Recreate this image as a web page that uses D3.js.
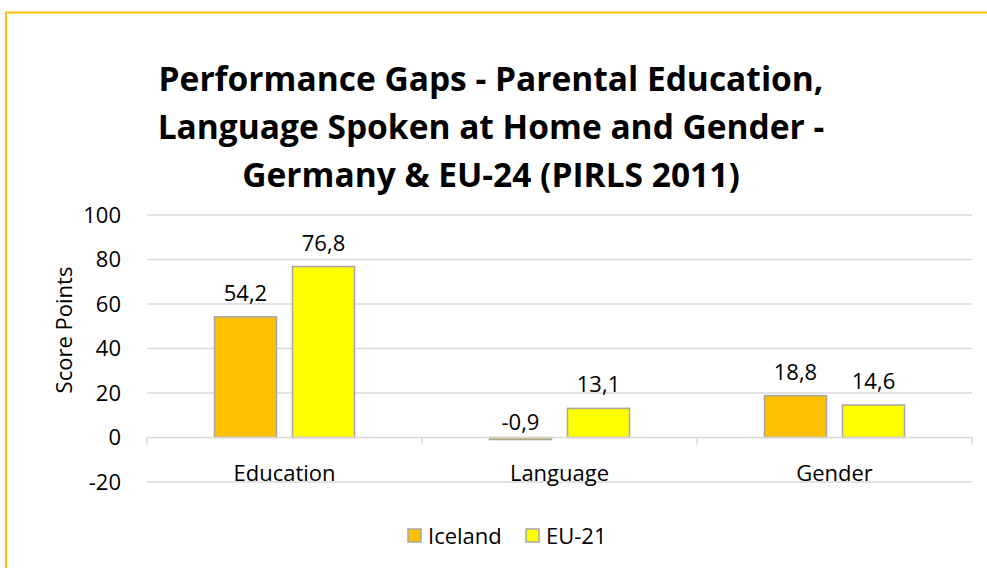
<!DOCTYPE html>
<html lang="en">
<head>
    <meta charset="UTF-8">
    <title>Performance Gaps</title>
    <script src="https://cdn.jsdelivr.net/npm/d3@7"></script>
</head>
<style>
    body { margin: 0; background: #fff; }
    svg text { font-family: "Open Sans", sans-serif; fill: #000; }
    .tick-label, .cat-label, .val-label, .legend-label, .y-title { font-size: 22px; }
    .title { font-size: 33.5px; font-weight: bold; text-anchor: middle; }
</style>
<body>
<svg class="chart"></svg>
<script>
    // data
    var categories = ["Education", "Language", "Gender"];
    var seriesNames = ["Iceland", "EU-21"];
    var iceland = [54.2, -0.9, 18.8];
    var eu21 = [76.8, 13.1, 14.6];
    var yTicks = [-20, 0, 20, 40, 60, 80, 100];
    var titleLines = [
        "Performance Gaps - Parental Education,",
        "Language Spoken at Home and Gender -",
        "Germany & EU-24 (PIRLS 2011)"
    ];

    var colors = ["#FFC000", "#FFFF00"];
    var W = 987, H = 568;

    // comma decimals, plain hyphen for minus
    var fmtVal = function (v) { return d3.format(".1f")(v).replace("−", "-").replace(".", ","); };
    var fmtTick = function (v) { return String(v); };

    var svg = d3.select(".chart").attr("width", W).attr("height", H);

    // chart border
    svg.append("rect")
        .attr("x", 6).attr("y", 12.5)
        .attr("width", W + 10).attr("height", H + 10)
        .attr("fill", "#fff")
        .attr("stroke", "#FFC000")
        .attr("stroke-width", 2);

    // title
    svg.append("text")
        .attr("class", "title")
        .selectAll("tspan")
        .data(titleLines)
        .enter()
        .append("tspan")
        .attr("x", 491)
        .attr("y", function (d, i) { return 91 + i * 48; })
        .text(function (d) { return d; });

    // scales
    var y = d3.scaleLinear().domain([-20, 100]).range([482, 215]);
    var x0 = d3.scaleBand().domain(categories).range([147, 972]);
    var x1 = d3.scaleBand().domain(seriesNames)
        .range([0, x0.bandwidth()])
        .paddingInner(0.205)
        .paddingOuter(0.865);

    // gridlines
    svg.append("g")
        .selectAll("line")
        .data(yTicks.filter(function (d) { return d !== 0; }))
        .enter()
        .append("line")
        .attr("x1", 147).attr("x2", 972)
        .attr("y1", function (d) { return y(d); })
        .attr("y2", function (d) { return y(d); })
        .attr("stroke", "#D9D9D9")
        .attr("stroke-width", 1.5);

    // y axis labels
    var yAxis = d3.axisLeft(y).tickValues(yTicks).tickFormat(fmtTick).tickSize(0).tickPadding(0);
    var gy = svg.append("g").attr("transform", "translate(121,0)").call(yAxis);
    gy.select(".domain").remove();
    gy.selectAll("text")
        .attr("class", "tick-label")
        .attr("fill", "#000")
        .style("font-family", '"Open Sans", sans-serif')
        .style("font-size", "22px");

    // y title
    svg.append("text")
        .attr("class", "y-title")
        .attr("transform", "translate(72,330) rotate(-90)")
        .attr("text-anchor", "middle")
        .text("Score Points");

    // bars
    var groups = svg.append("g")
        .selectAll("g")
        .data(categories)
        .enter()
        .append("g")
        .attr("transform", function (d) { return "translate(" + x0(d) + ",0)"; });

    var rows = function (c, i) {
        return [
            { name: seriesNames[0], value: iceland[i] },
            { name: seriesNames[1], value: eu21[i] }
        ];
    };

    groups.selectAll("rect")
        .data(rows)
        .enter()
        .append("rect")
        .attr("x", function (d) { return x1(d.name); })
        .attr("width", x1.bandwidth())
        .attr("y", function (d) { return y(Math.max(d.value, 0)); })
        .attr("height", function (d) { return Math.abs(y(d.value) - y(0)); })
        .attr("fill", function (d, i) { return colors[i]; })
        .attr("stroke", "#A6A6A6")
        .attr("stroke-width", 1.5);

    groups.selectAll(".val-label")
        .data(rows)
        .enter()
        .append("text")
        .attr("class", "val-label")
        .attr("text-anchor", "middle")
        .attr("x", function (d) { return x1(d.name) + x1.bandwidth() / 2; })
        .attr("y", function (d) {
            return d.value < 0 ? y(0) - 8 : y(d.value) - 16;
        })
        .text(function (d) { return fmtVal(d.value); });

    // x axis line with tick marks
    var xAxis = svg.append("g");
    xAxis.append("line")
        .attr("x1", 147).attr("x2", 972)
        .attr("y1", y(0)).attr("y2", y(0))
        .attr("stroke", "#D9D9D9").attr("stroke-width", 1.5);
    xAxis.selectAll(".xtick")
        .data(categories.concat(["end"]))
        .enter()
        .append("line")
        .attr("x1", function (d, i) { return 147 + i * x0.bandwidth(); })
        .attr("x2", function (d, i) { return 147 + i * x0.bandwidth(); })
        .attr("y1", y(0)).attr("y2", y(0) + 7)
        .attr("stroke", "#D9D9D9").attr("stroke-width", 1.5);

    xAxis.selectAll(".cat-label")
        .data(categories)
        .enter()
        .append("text")
        .attr("class", "cat-label")
        .attr("text-anchor", "middle")
        .attr("x", function (d) { return x0(d) + x0.bandwidth() / 2; })
        .attr("y", 481)
        .text(function (d) { return d; });

    // legend
    var legend = svg.append("g")
        .selectAll("g")
        .data(seriesNames)
        .enter()
        .append("g")
        .attr("transform", function (d, i) { return "translate(" + (408 + i * 118) + ",529)"; });
    legend.append("rect")
        .attr("width", 13).attr("height", 13)
        .attr("fill", function (d, i) { return colors[i]; })
        .attr("stroke", "#A6A6A6").attr("stroke-width", 1.5);
    legend.append("text")
        .attr("class", "legend-label")
        .attr("x", 20).attr("y", 15)
        .text(function (d) { return d; });
</script>
</body>
</html>
